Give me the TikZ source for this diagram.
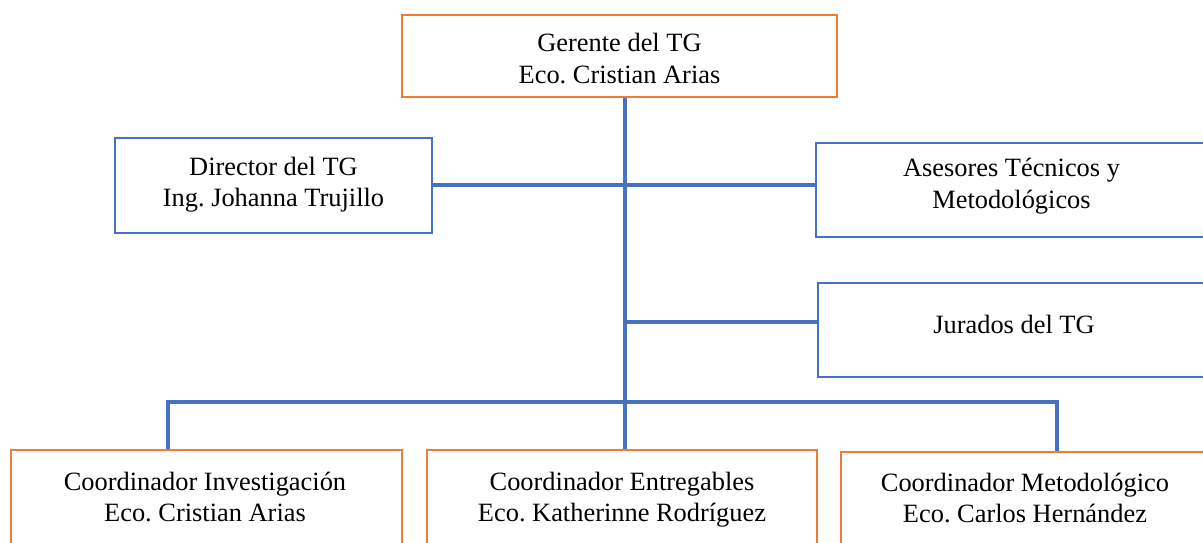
\documentclass[tikz,border=0pt]{standalone}
\usepackage{fontspec}
\setmainfont{Liberation Serif}
\definecolor{boxorange}{HTML}{ED7D31}
\definecolor{boxblue}{HTML}{4472C4}
\begin{document}
\frenchspacing
\begin{tikzpicture}[x=1pt,y=-1pt,
  obox/.style={draw=boxorange, line width=2.5pt, inner sep=0pt, fill=white},
  bbox/.style={draw=boxblue, line width=2.5pt, inner sep=0pt, fill=white},
  lbl/.style={font=\fontsize{26.4}{31.7}\selectfont\frenchspacing, align=center, anchor=base, inner sep=0pt},
  link/.style={draw=boxblue, line width=3.5pt}]
\useasboundingbox (0,0) rectangle (1203,542);
% coordinates for connector junctions
\coordinate (trunk) at (625,0);
\coordinate (busL) at (168,402);
\coordinate (busR) at (1057,402);
\coordinate (jur) at (625,322);
% connectors (drawn first, boxes on top)
\coordinate (gtop) at (625,97);
\coordinate (bmtop) at (625,450);
\draw[link] (gtop) -- (bmtop);
\draw[link] (432,185) coordinate (dE) -- (816,185) coordinate (aW);
\draw[link] (jur) -- (818,322) coordinate (jW);
\draw[link] (busL |- 0,452) coordinate (blN) -- (busL) -- (busR) -- (busR |- 0,453) coordinate (brN);
% boxes
\node[obox, minimum width=435pt, minimum height=82pt] (g) at (619.5,56) {};
\node[bbox, minimum width=317pt, minimum height=95pt] (d) at (273.5,185.5) {};
\node[bbox, minimum width=391pt, minimum height=94pt] (a) at (1011.5,190) {};
\node[bbox, minimum width=392pt, minimum height=94pt] (j) at (1014,330) {};
\node[obox, minimum width=391pt, minimum height=96pt] (bl) at (206.5,498) {};
\node[obox, minimum width=390pt, minimum height=96pt] (bm) at (622,498) {};
\node[obox, minimum width=368pt, minimum height=94pt] (br) at (1025,499) {};
% texts (anchor base = baseline of last line)
\node[lbl] (gt) at (619.5,83.4) {Gerente del TG\\Eco. Cristian Arias};
\node[lbl] (dt) at (273.5,206.7) {Director del TG\\Ing. Johanna Trujillo};
\node[lbl] (at) at (1011.5,208.4) {Asesores Técnicos y\\Metodológicos};
\node[lbl] (jt) at (1014,333) {Jurados del TG};
\node[lbl] (blt) at (205,521.7) {Coordinador Investigación\\Eco. Cristian Arias};
\node[lbl] (bmt) at (622,521.7) {Coordinador Entregables\\Eco. Katherinne Rodríguez};
\node[lbl] (brt) at (1025,522.7) {Coordinador Metodológico\\Eco. Carlos Hernández};
\end{tikzpicture}
\end{document}
